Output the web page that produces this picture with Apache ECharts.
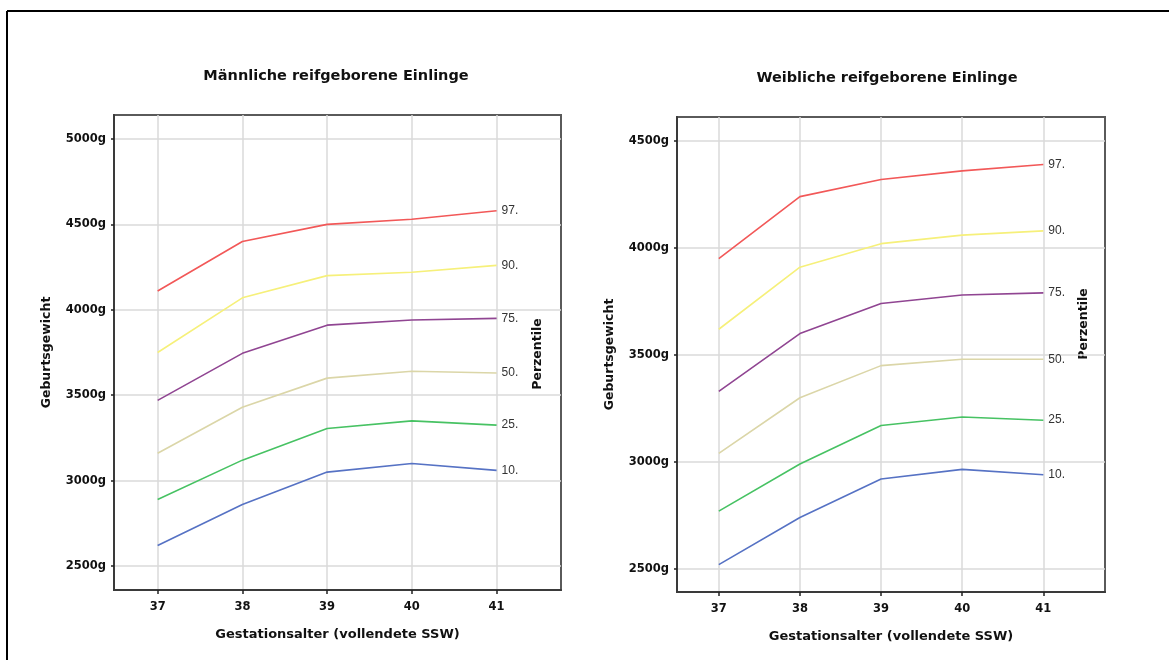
<!DOCTYPE html>
<html>
<head>
<meta charset="utf-8">
<script src="https://cdn.jsdelivr.net/npm/echarts@6/dist/echarts.min.js"></script>
<style>
  html, body { margin: 0; padding: 0; background: #fff; }
  #chart { width: 1169px; height: 660px; }
</style>
</head>
<body>
<div id="chart"></div>
<script>
// Gestational weeks (completed weeks)
const weeks = [37, 38, 39, 40, 41];

// Percentile curve labels and colours (97th at top down to 10th)
const percentileLabels = ['97.', '90.', '75.', '50.', '25.', '10.'];
const percentileColors = ['#f25858', '#f6f07a', '#904592', '#dbd6a8', '#47c263', '#5672c4'];

// Birth weight percentiles, male singletons (g)
const maleP97 = [4110, 4400, 4500, 4530, 4580];
const maleP90 = [3750, 4070, 4200, 4220, 4260];
const maleP75 = [3470, 3745, 3910, 3940, 3950];
const maleP50 = [3160, 3430, 3600, 3640, 3630];
const maleP25 = [2890, 3120, 3305, 3350, 3325];
const maleP10 = [2620, 2860, 3050, 3100, 3060];

// Birth weight percentiles, female singletons (g)
const femaleP97 = [3950, 4240, 4320, 4360, 4390];
const femaleP90 = [3620, 3910, 4020, 4060, 4080];
const femaleP75 = [3330, 3600, 3740, 3780, 3790];
const femaleP50 = [3040, 3300, 3450, 3480, 3480];
const femaleP25 = [2770, 2990, 3170, 3210, 3195];
const femaleP10 = [2520, 2740, 2920, 2965, 2940];

// Tick values
const maleWeightTicks = [2500, 3000, 3500, 4000, 4500, 5000];
const femaleWeightTicks = [2500, 3000, 3500, 4000, 4500];

const BOLD_FONT = '"DejaVu Sans", "Liberation Sans", sans-serif';
const LABEL_FONT = '"Liberation Sans", Arial, sans-serif';
const chart = echarts.init(document.getElementById('chart'), null, { renderer: 'canvas' });

const gridLine = { show: true, lineStyle: { color: '#dadada', width: 1.5 } };

function xAxisFor(gridIndex) {
  return {
    type: 'value', gridIndex, min: 36.485, max: 41.76,
    name: 'Gestationsalter (vollendete SSW)', nameLocation: 'middle', nameGap: 38,
    nameTextStyle: { fontFamily: BOLD_FONT, fontWeight: 'bold', fontSize: 13, color: '#111' },
    axisLine: { show: true, onZero: false, lineStyle: { color: '#3a3a3a', width: 2 } },
    axisTick: { show: true, length: 4, customValues: weeks, lineStyle: { color: '#222', width: 1.5 } },
    axisLabel: { customValues: weeks, margin: 11, fontFamily: BOLD_FONT, fontWeight: 'bold', fontSize: 11.5, color: '#111' },
    splitLine: gridLine
  };
}
function yAxisFor(gridIndex, min, max, ticks) {
  return {
    type: 'value', gridIndex, min, max,
    name: 'Geburtsgewicht', nameLocation: 'middle', nameGap: 61,
    nameTextStyle: { fontFamily: BOLD_FONT, fontWeight: 'bold', fontSize: 12.5, color: '#111' },
    axisLine: { show: true, onZero: false, lineStyle: { color: '#3a3a3a', width: 2 } },
    axisTick: { show: true, length: 3, customValues: ticks, lineStyle: { color: '#222', width: 1.5 } },
    axisLabel: { customValues: ticks, margin: 8, formatter: v => v + 'g',
      fontFamily: BOLD_FONT, fontWeight: 'bold', fontSize: 11.5, color: '#111' },
    splitLine: gridLine
  };
}

function curves(gridIndex, sets) {
  return sets.map((vals, k) => ({
    type: 'line', xAxisIndex: gridIndex, yAxisIndex: gridIndex,
    data: weeks.map((w, i) => [w, vals[i]]),
    symbol: 'none', silent: true, animation: false,
    lineStyle: { color: percentileColors[k], width: 1.6 },
    endLabel: { show: true, formatter: percentileLabels[k], distance: 5,
      fontFamily: LABEL_FONT, fontSize: 12, color: '#333' }
  }));
}

const option = {
  backgroundColor: '#fff',
  animation: false,
  title: [
    { text: 'Männliche reifgeborene Einlinge', left: 331, top: 64, textAlign: 'center',
      textStyle: { fontFamily: BOLD_FONT, fontWeight: 'bold', fontSize: 14.5, color: '#111' } },
    { text: 'Weibliche reifgeborene Einlinge', left: 882, top: 66, textAlign: 'center',
      textStyle: { fontFamily: BOLD_FONT, fontWeight: 'bold', fontSize: 14.5, color: '#111' } }
  ],
  grid: [
    { left: 114, top: 115, width: 447, height: 475, show: true, borderColor: '#5a5a5a', borderWidth: 2 },
    { left: 677, top: 117, width: 428, height: 475, show: true, borderColor: '#5a5a5a', borderWidth: 2 }
  ],
  xAxis: [xAxisFor(0), xAxisFor(1)],
  yAxis: [yAxisFor(0, 2360, 5140, maleWeightTicks), yAxisFor(1, 2392, 4612, femaleWeightTicks)],
  series: [
    ...curves(0, [maleP97, maleP90, maleP75, maleP50, maleP25, maleP10]),
    ...curves(1, [femaleP97, femaleP90, femaleP75, femaleP50, femaleP25, femaleP10])
  ],
  graphic: [
    { type: 'line', shape: { x1: 7, y1: 11, x2: 1169, y2: 11 }, style: { stroke: '#000', lineWidth: 2 } },
    { type: 'line', shape: { x1: 7, y1: 11, x2: 7, y2: 660 }, style: { stroke: '#000', lineWidth: 2 } },
    { type: 'text', x: 538, y: 354, rotation: Math.PI / 2,
      style: { text: 'Perzentile', font: 'bold 12.5px ' + BOLD_FONT, fill: '#111', align: 'center', verticalAlign: 'middle' } },
    { type: 'text', x: 1084, y: 324, rotation: Math.PI / 2,
      style: { text: 'Perzentile', font: 'bold 12.5px ' + BOLD_FONT, fill: '#111', align: 'center', verticalAlign: 'middle' } }
  ]
};
chart.setOption(option);
</script>
</body>
</html>
